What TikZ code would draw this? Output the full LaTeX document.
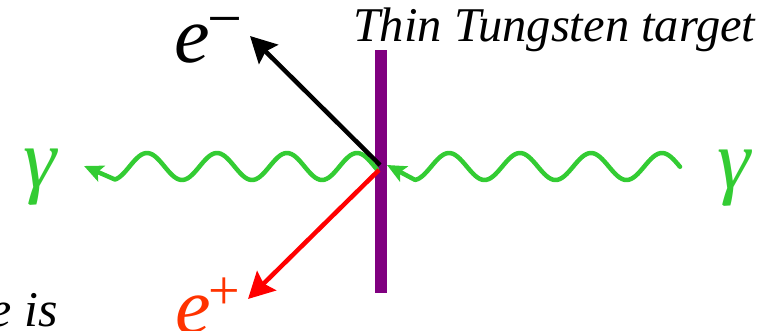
\documentclass[tikz,border=0pt]{standalone}
\usepackage{fontspec}
\setmainfont{Liberation Serif}
\usetikzlibrary{arrows.meta}
\definecolor{phgreen}{HTML}{33CC33}
\definecolor{tpurple}{HTML}{800080}
\definecolor{posred}{HTML}{FF3300}
\begin{document}
\begin{tikzpicture}[x=1pt,y=-1pt,
  lbl/.style={inner sep=0pt, outer sep=0pt, anchor=base west},
  glbl/.style={inner sep=0pt, outer sep=0pt, anchor=base, text=phgreen},
  wave/.style={draw=phgreen, line width=4.5pt, line cap=round, line join=round,
    -{Stealth[length=19pt,width=17pt,inset=4pt]}},
  track/.style={line width=4.5pt, -{Stealth[length=26pt,width=27pt,inset=4pt]}}]
\useasboundingbox (0,0) rectangle (770,331);
% target
\fill[tpurple] (375,50) rectangle (387,293);
\coordinate (v) at (380,165);
\coordinate (vr) at (379,170);
\coordinate (gl) at (84,166);
\coordinate (gr) at (387,165);
\coordinate (em) at (250,36);
\coordinate (ep) at (248,299);
% photons
\draw[wave] plot[domain=377:115, samples=120, smooth] (\x,{166.5-13.5*cos(5.142857*(\x-357))}) -- (gl);
\draw[wave] plot[domain=680:415, samples=120, smooth] (\x,{166.5-13.5*cos(5.070423*(\x-662))}) -- (gr);
% electron / positron
\draw[track, black] (v) -- (em);
\draw[track, red] (vr) -- (ep);
% labels
\node[lbl] (tt) at (353,42) {\fontsize{48.5}{48.5}\selectfont\itshape Thin Tungsten target};
\node[lbl] (eminus) at (174,63) {\fontsize{80}{80}\selectfont\itshape e\kern-2pt\raisebox{23pt}{\fontsize{62}{62}\selectfont\upshape −}};
\node[lbl, text=posred] (eplus) at (175,333) {\fontsize{80}{80}\selectfont\itshape e\kern-2pt\raisebox{24pt}{\fontsize{56}{56}\selectfont\upshape +}};
\node[glbl] (gleft) at (40,187) {\fontsize{84}{84}\selectfont\itshape γ};
\node[glbl] (gright) at (734,189) {\fontsize{84}{84}\selectfont\itshape γ};
\node[lbl] (eis) at (-10,326) {\fontsize{50}{50}\selectfont\itshape e is};
\end{tikzpicture}
\end{document}
